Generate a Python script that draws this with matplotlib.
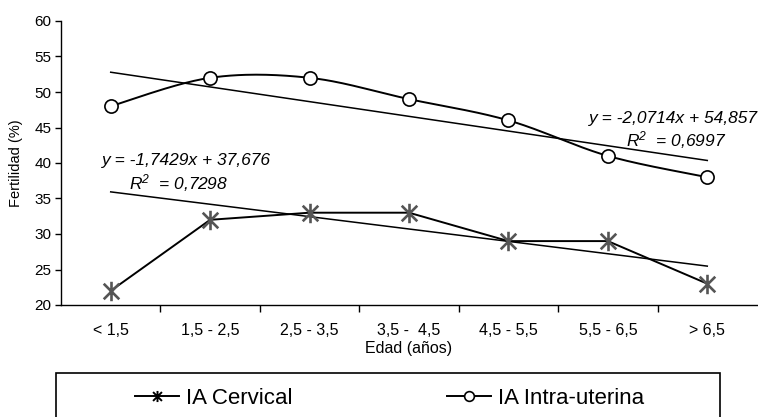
import numpy as np
import matplotlib
matplotlib.use("Agg")
import matplotlib.pyplot as plt
from matplotlib import font_manager
from matplotlib.lines import Line2D
from matplotlib.path import Path
from matplotlib.patches import Rectangle

# ---------------- data ----------------
categories = ["< 1,5", "1,5 - 2,5", "2,5 - 3,5", "3,5 -  4,5", "4,5 - 5,5", "5,5 - 6,5", "> 6,5"]
cervical = [22, 32, 33, 33, 29, 29, 23]
intra = [48, 52, 52, 49, 46, 41, 38]
cervical_fit = (-1.7429, 37.676)
intra_fit = (-2.0714, 54.857)
cervical_eq = ["y = -1,7429x + 37,676", "R$^2$  = 0,7298"]
intra_eq = ["y = -2,0714x + 54,857", "R$^2$  = 0,6997"]
series_names = ["IA Cervical", "IA Intra-uterina"]
y_ticks = [20, 25, 30, 35, 40, 45, 50, 55, 60]
x_label = "Edad (años)"
y_label = "Fertilidad (%)"


def has_font(name):
    try:
        font_manager.findfont(font_manager.FontProperties(family=name), fallback_to_default=False)
        return True
    except Exception:
        return False


NARROW = ["Liberation Sans Narrow", "Liberation Sans", "DejaVu Sans"] if has_font("Liberation Sans Narrow") else ["Liberation Sans", "DejaVu Sans"]
plt.rcParams["font.family"] = ["Liberation Sans", "DejaVu Sans"]
plt.rcParams["mathtext.fontset"] = "custom"
plt.rcParams["mathtext.it"] = "Liberation Sans:italic"
plt.rcParams["mathtext.rm"] = "Liberation Sans:italic"


def excel_smooth(xs, ys, n=40):
    pts = np.column_stack([xs, ys]).astype(float)
    out = [pts[0]]
    m = len(pts)
    for i in range(m - 1):
        p0 = pts[i - 1] if i > 0 else pts[i]
        p1 = pts[i]
        p2 = pts[i + 1]
        p3 = pts[i + 2] if i + 2 < m else pts[i + 1]
        c1 = p1 + (p2 - p0) / 6.0
        c2 = p2 - (p3 - p1) / 6.0
        t = np.linspace(0, 1, n)[1:, None]
        seg = ((1 - t) ** 3) * p1 + 3 * ((1 - t) ** 2) * t * c1 + 3 * (1 - t) * t ** 2 * c2 + t ** 3 * p2
        out.extend(seg)
    out = np.array(out)
    return out[:, 0], out[:, 1]


# Excel-like star marker: vertical line + X
star = Path(
    [(0, -1), (0, 1), (-0.8, -0.8), (0.8, 0.8), (-0.8, 0.8), (0.8, -0.8)],
    [Path.MOVETO, Path.LINETO, Path.MOVETO, Path.LINETO, Path.MOVETO, Path.LINETO],
)

fig = plt.figure(figsize=(7.58, 4.17), dpi=100)
ax = fig.add_axes([61 / 758, 1 - 305 / 417, 696 / 758, (305 - 21) / 417])

x = np.arange(1, len(categories) + 1)

# trend lines
for (a, b) in (intra_fit, cervical_fit):
    ax.plot(x[[0, -1]], a * x[[0, -1]] + b, color="black", lw=1.1, zorder=2)

# intra-uterine smoothed line
sx, sy = excel_smooth(x, intra)
ax.plot(sx, sy, color="black", lw=1.4, zorder=3)
ax.plot(x, intra, ls="none", marker="o", ms=9.5, mfc="white", mec="black", mew=1.2, zorder=4)

# cervical line
ax.plot(x, cervical, color="black", lw=1.4, zorder=3)
ax.plot(x, cervical, ls="none", marker=star, ms=14, mec="#555555", mfc="none", mew=1.9, zorder=4)

ax.set_xlim(0.5, len(categories) + 0.5)
ax.set_ylim(20, 60)
ax.set_yticks(y_ticks)
ax.set_yticklabels([str(v) for v in y_ticks], fontsize=11)
ax.set_xticks(x)
ax.set_xticklabels(categories, fontsize=11.5, family=NARROW)
ax.set_xticks(np.arange(1.5, len(categories)), minor=True)
ax.tick_params(axis="x", which="major", length=0, pad=13)
ax.tick_params(axis="x", which="minor", length=5, width=1, direction="out")
ax.tick_params(axis="y", length=4, width=1, direction="out", pad=3)
for s in ("top", "right"):
    ax.spines[s].set_visible(False)
for s in ("left", "bottom"):
    ax.spines[s].set_linewidth(1)
ax.set_xlabel(x_label, fontsize=11.5, family=NARROW, labelpad=2)
ax.set_ylabel(y_label, fontsize=10.5, labelpad=8)

# equations (positions given in pixels from top-left, converted to figure fraction)
eqs = [
    (186, 160, cervical_eq[0]),
    (179, 183, cervical_eq[1]),
    (673, 118, intra_eq[0]),
    (676, 140, intra_eq[1]),
]
for px, py, s in eqs:
    fig.text(px / 758, 1 - py / 417, s, fontsize=12.5, style="italic", ha="center", va="center")

# legend box
fig.patches.append(Rectangle((56 / 758, -0.1), (720 - 56) / 758, 0.1 + 1 - 373 / 417,
                             transform=fig.transFigure, fill=False, ec="black", lw=1.2))
h1 = Line2D([], [], color="black", lw=1.4, marker=star, ms=8, mec="black", mew=1.4)
h2 = Line2D([], [], color="black", lw=1.4, marker="o", ms=7, mfc="white", mec="black", mew=1.2)
for h, name, xpos in ((h1, series_names[0], 135), (h2, series_names[1], 447)):
    fig.legend([h], [name], loc="center left", bbox_to_anchor=(xpos / 758, 1 - 398 / 417),
               frameon=False, borderpad=0, borderaxespad=0, handlelength=2.0, handletextpad=0.3,
               prop={"family": NARROW, "size": 16})

fig.savefig("out.png", dpi=100)
